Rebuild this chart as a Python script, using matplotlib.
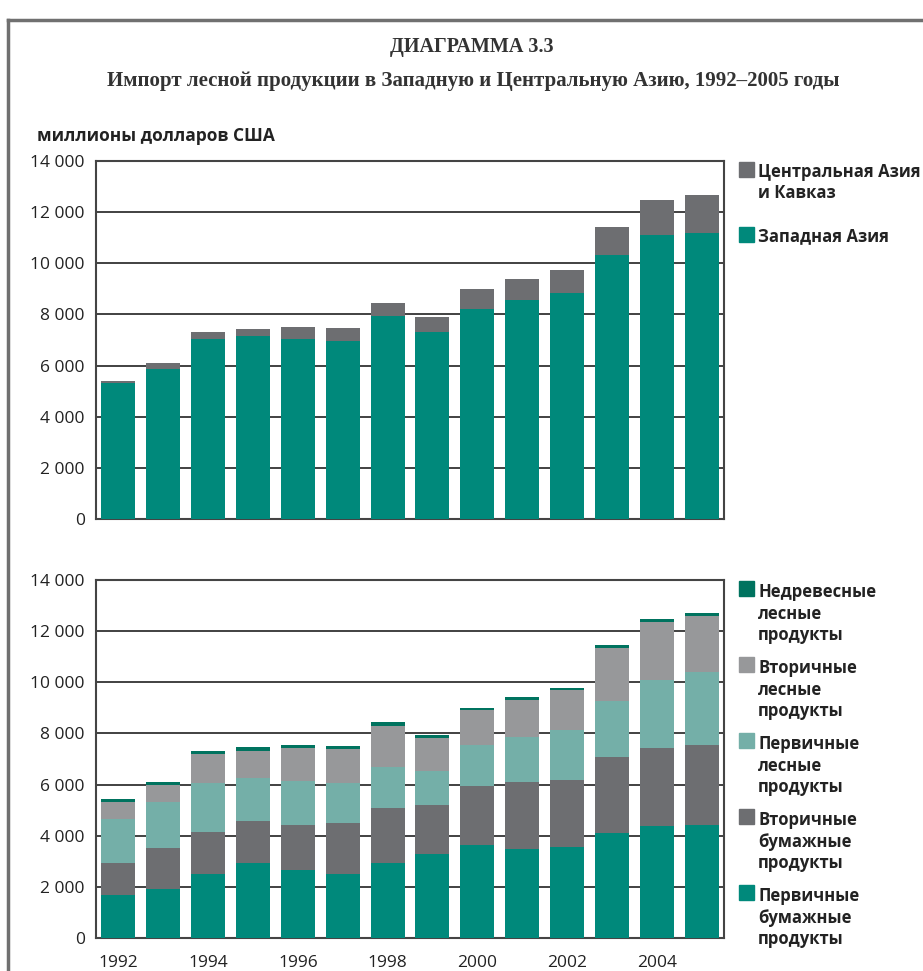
import matplotlib
matplotlib.use('Agg')
import matplotlib.pyplot as plt
import numpy as np
from matplotlib.patches import Rectangle
from matplotlib.lines import Line2D
from matplotlib.ticker import FuncFormatter

# data (millions USD)
years = list(range(1992, 2006))
west_asia = [5300, 5850, 7040, 7160, 7040, 6960, 7940, 7310, 8210, 8560, 8840, 10320, 11100, 11180]
central_asia = [100, 250, 270, 270, 470, 510, 510, 590, 780, 830, 900, 1100, 1380, 1490]

primary_paper = [1670, 1930, 2520, 2950, 2670, 2520, 2950, 3300, 3650, 3490, 3570, 4120, 4390, 4430]
secondary_paper = [1280, 1600, 1640, 1640, 1760, 1990, 2150, 1920, 2310, 2620, 2620, 2970, 3050, 3130]
primary_wood = [1720, 1800, 1920, 1680, 1720, 1560, 1600, 1330, 1600, 1760, 1960, 2190, 2660, 2860]
secondary_wood = [630, 670, 1130, 1060, 1290, 1330, 1600, 1290, 1370, 1450, 1530, 2070, 2270, 2190]
nonwood = [120, 120, 120, 120, 120, 120, 160, 80, 80, 120, 80, 120, 120, 80]

top_labels = ['Центральная Азия\nи Кавказ', 'Западная Азия']
bottom_labels = ['Недревесные\nлесные\nпродукты', 'Вторичные\nлесные\nпродукты',
                 'Первичные\nлесные\nпродукты', 'Вторичные\nбумажные\nпродукты',
                 'Первичные\nбумажные\nпродукты']

TEAL = '#00897B'
DGRAY = '#6D6E71'
LTEAL = '#74AFA8'
LGRAY = '#97989A'
DGREEN = '#00735F'

plt.rcParams['font.family'] = ['Open Sans', 'DejaVu Sans']

W, H = 923, 971
fig = plt.figure(figsize=(W / 100, H / 100), dpi=100)

def fx(px):
    return px / W

def fy(py):
    return 1 - py / H

# frame
fig.add_artist(Line2D([fx(8), fx(8)], [fy(20), 0], color='#707070', lw=2.5))
fig.add_artist(Line2D([fx(8), 1], [fy(20), fy(20)], color='#707070', lw=2.5))

fig.text(fx(472), fy(47), 'ДИАГРАММА 3.3', ha='center', va='center',
         family='Liberation Serif', fontweight='bold', fontsize=14.5, color='#333333')
fig.text(fx(473), fy(81), 'Импорт лесной продукции в Западную и Центральную Азию, 1992–2005 годы',
         ha='center', va='center', family='Liberation Serif', fontweight='bold',
         fontsize=15, color='#333333')
fig.text(fx(37), fy(136), 'миллионы долларов США', ha='left', va='center',
         fontweight='bold', fontsize=12.5, color='#222222')

x = np.arange(len(years))
bw = 0.76

def style(ax):
    ax.set_xlim(-0.5, len(years) - 0.5)
    ax.set_ylim(0, 14000)
    ax.set_yticks(range(0, 14001, 2000))
    ax.yaxis.set_major_formatter(FuncFormatter(lambda v, p: f'{int(v):,}'.replace(',', ' ')))
    ax.grid(axis='y', color='#333333', lw=1.3)
    ax.set_axisbelow(True)
    for s in ax.spines.values():
        s.set_color('#444444')
        s.set_linewidth(1.5)
    ax.tick_params(axis='y', length=0, pad=8, labelsize=12.5, labelcolor='#222222')
    ax.tick_params(axis='x', length=0, pad=12, labelsize=12.5, labelcolor='#222222')

ax1 = fig.add_axes([fx(96), fy(519), fx(724) - fx(96), fy(161) - fy(519)])
ax1.bar(x, west_asia, bw, color=TEAL, zorder=3)
ax1.bar(x, central_asia, bw, bottom=west_asia, color=DGRAY, zorder=3)
style(ax1)
ax1.set_xticks([])

ax2 = fig.add_axes([fx(96), fy(938), fx(724) - fx(96), fy(580) - fy(938)])
bottom = np.zeros(len(years))
for vals, col in [(primary_paper, TEAL), (secondary_paper, DGRAY), (primary_wood, LTEAL),
                  (secondary_wood, LGRAY), (nonwood, DGREEN)]:
    ax2.bar(x, vals, bw, bottom=bottom, color=col, zorder=3)
    bottom += np.array(vals)
style(ax2)
ax2.set_xticks(x[::2])
ax2.set_xticklabels([str(y) for y in years[::2]])

def legend_entry(color, label, patch_top, text_y):
    fig.add_artist(Rectangle((fx(739), fy(patch_top + 15)), fx(15), 15 / H,
                             color=color, transform=fig.transFigure))
    for i, line in enumerate(label.split('\n')):
        fig.text(fx(758), fy(text_y + i * 21.5), line, ha='left', va='center_baseline',
                 fontweight='bold', fontsize=12, color='#222222')

legend_entry(DGRAY, top_labels[0], 162, 170)
legend_entry(TEAL, top_labels[1], 227, 234)

for i, (col, lab) in enumerate(zip([DGREEN, LGRAY, LTEAL, DGRAY, TEAL], bottom_labels)):
    legend_entry(col, lab, 581 + i * 76, 590 + i * 76)

fig.savefig('out.png', dpi=100)
